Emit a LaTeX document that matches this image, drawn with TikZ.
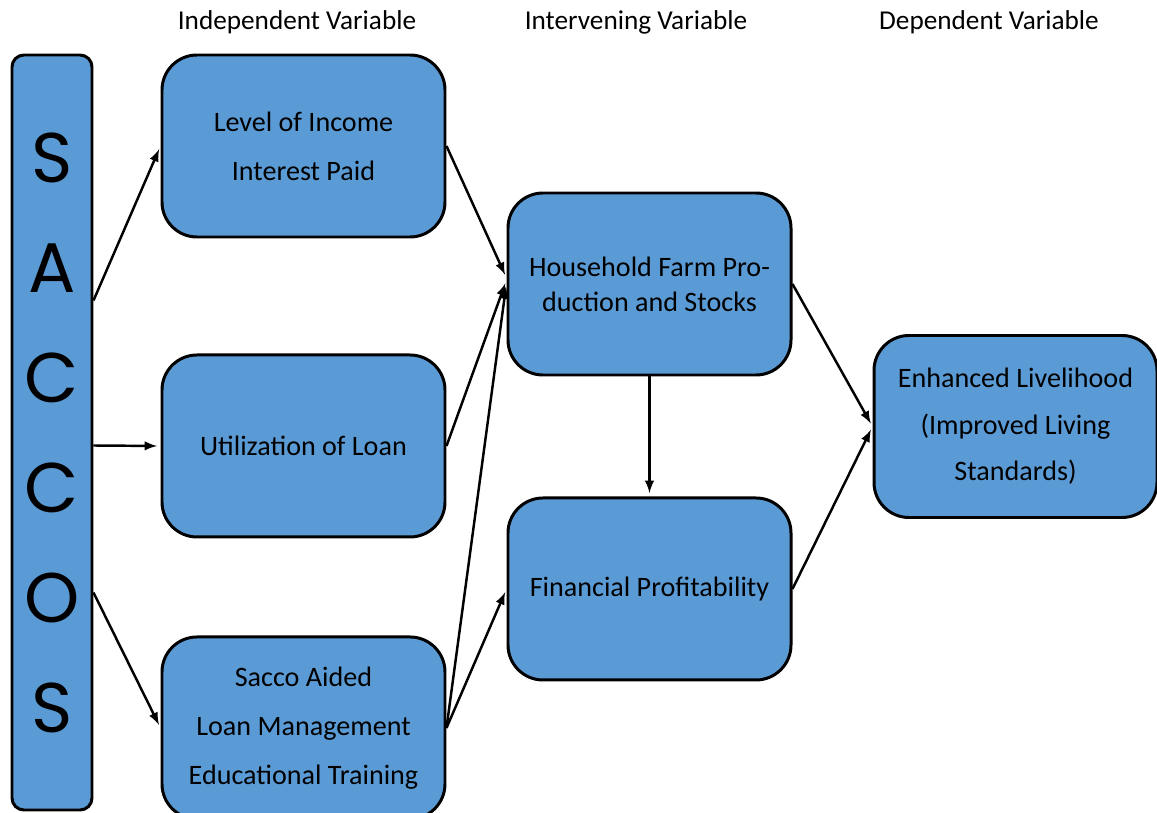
\documentclass[tikz,border=0pt]{standalone}
\usepackage{fontspec}
\setmainfont{Carlito}
\newfontfamily\barfont{Poppins}
\usetikzlibrary{positioning}
\definecolor{boxblue}{HTML}{5B9BD5}

\tikzset{
  varbox/.style={rectangle, rounded corners=0.7cm, draw=black, line width=1.7pt, fill=boxblue, text=black,
                 minimum width=5.66cm, minimum height=3.64cm, align=center, font=\fontsize{16}{28}\selectfont},
  heading/.style={text=black, font=\fontsize{15.5}{18}\selectfont},
  link/.style={->, >=latex, line width=1.4pt, shorten >=2pt}
}

\begin{document}
\begin{tikzpicture}
    \useasboundingbox (0,0) rectangle (23.14,-16.26);
    % column headings
    \node (h1) [heading] at (5.94,-0.44) {Independent Variable};
    \node (h2) [heading] at (12.72,-0.44) {Intervening Variable};
    \node (h3) [heading] at (19.78,-0.44) {Dependent Variable};
    % the SACCOS bar
    \node (sc) [rectangle, rounded corners=0.24cm, draw=black, line width=1.7pt, fill=boxblue, text=black,
                minimum width=1.6cm, minimum height=15.1cm, align=center,
                font=\barfont\fontsize{40}{62.6}\selectfont] at (1.04,-8.65) {S\\A\\C\\C\\O\\S};
    % independent variables
    \node (iv1) [varbox] at (6.07,-2.92) {Level of Income\\Interest Paid};
    \node (iv2) [varbox, below=2.3cm of iv1] {Utilization of Loan};
    \node (iv3) [varbox, below=1.94cm of iv2] {Sacco Aided\\Loan Management\\Educational Training};
    % intervening variables
    \node (mv1) [varbox, font=\fontsize{16}{20}\selectfont] at (12.99,-5.68) {Household Farm Pro-\\duction and Stocks};
    \node (mv2) [varbox, below=2.4cm of mv1] {Financial Profitability};
    % dependent variable
    \node (dv) [varbox, font=\fontsize{16}{26.5}\selectfont] at (20.31,-8.53) {Enhanced Livelihood\\(Improved Living\\Standards)};
    % links
    \draw[link] ([yshift=2.64cm]sc.east) -- (iv1.west);
    \draw[link] ([yshift=-0.26cm]sc.east) -- (iv2.west);
    \draw[link] ([yshift=-3.2cm]sc.east) -- (iv3.west);
    \draw[link] (iv1.east) -- ([yshift=0.12cm]mv1.west);
    \draw[link] (iv2.east) -- ([yshift=0.08cm]mv1.west);
    \draw[link] (iv3.east) -- ([yshift=0.02cm]mv1.west);
    \draw[link] (iv3.east) -- (mv2.west);
    \draw[link] (mv1.south) -- (mv2.north);
    \draw[link] (mv1.east) -- (dv.west);
    \draw[link] (mv2.east) -- (dv.west);
\end{tikzpicture}
\end{document}
